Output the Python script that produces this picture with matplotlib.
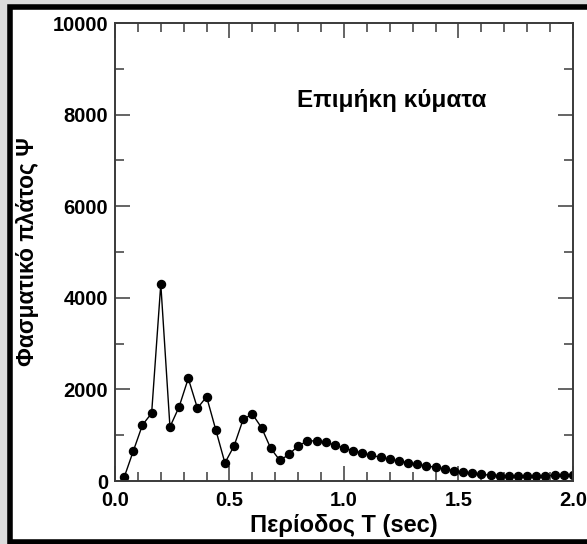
import matplotlib
matplotlib.use("Agg")
import matplotlib.pyplot as plt
from matplotlib.patches import Rectangle
from matplotlib.ticker import MultipleLocator

plt.rcParams['font.family'] = ['Liberation Sans', 'DejaVu Sans']
plt.rcParams['font.weight'] = 'bold'

# spectral amplitude of the long-period waves
period = [0.04, 0.08, 0.12, 0.16, 0.20, 0.24, 0.28, 0.32, 0.36, 0.40,
          0.44, 0.48, 0.52, 0.56, 0.60, 0.64, 0.68, 0.72, 0.76, 0.80,
          0.84, 0.88, 0.92, 0.96, 1.00, 1.04, 1.08, 1.12, 1.16, 1.20,
          1.24, 1.28, 1.32, 1.36, 1.40, 1.44, 1.48, 1.52, 1.56, 1.60,
          1.64, 1.68, 1.72, 1.76, 1.80, 1.84, 1.88, 1.92, 1.96, 2.00]
amplitude = [80, 655, 1225, 1480, 4300, 1180, 1620, 2240, 1590, 1840,
             1120, 395, 765, 1350, 1460, 1165, 714, 450, 580, 770,
             870, 880, 845, 786, 720, 662, 611, 561, 517, 474,
             437, 400, 364, 330, 299, 262, 225, 196, 168, 146,
             126, 118, 112, 108, 108, 110, 115, 122, 132, 142]

x_label = "Περίοδος T (sec)"
y_label = "Φασματικό πλάτος Ψ"
note = "Επιμήκη κύματα"

fig = plt.figure(figsize=(5.87, 5.44), dpi=100, facecolor='#dcdcdc')

# white panel with heavy black frame
frame = Rectangle((0.0162, 0.0028), 1.1, 0.9843, transform=fig.transFigure,
                  facecolor='white', edgecolor='black', linewidth=4, zorder=-1)
fig.patches.append(frame)

ax = fig.add_axes([0.1959, 0.1158, 0.7802, 0.8419])
ax.plot(period, amplitude, color='black', linewidth=1.0,
        marker='o', markersize=5.8, markerfacecolor='black', markeredgecolor='black')

ax.set_xlim(0, 2.0)
ax.set_ylim(0, 10000)
ax.xaxis.set_major_locator(MultipleLocator(0.5))
ax.xaxis.set_minor_locator(MultipleLocator(0.1))
ax.yaxis.set_major_locator(MultipleLocator(2000))
ax.yaxis.set_minor_locator(MultipleLocator(1000))
ax.xaxis.set_major_formatter(plt.FormatStrFormatter('%.1f'))

for s in ax.spines.values():
    s.set_linewidth(1.4)
    s.set_color('#3a3a3a')

ax.tick_params(which='both', direction='in', top=True, right=True,
               color='#3a3a3a', width=1.1, labelsize=14.5)
ax.tick_params(which='major', length=10.8)
ax.tick_params(which='minor', length=6.8)
ax.tick_params(axis='x', pad=7)
ax.tick_params(axis='y', pad=5)

ax.set_xlabel(x_label, fontsize=17, fontweight='bold', va='baseline')
ax.xaxis.set_label_coords(0.5, -0.1114)
ax.set_ylabel(y_label, fontsize=16.5, fontweight='bold', va='center')
ax.yaxis.set_label_coords(-0.192, 0.5)

ax.text(1.21, 8300, note, fontsize=17.5, fontweight='bold', ha='center', va='center')

fig.savefig('out.png', dpi=100, facecolor=fig.get_facecolor())
